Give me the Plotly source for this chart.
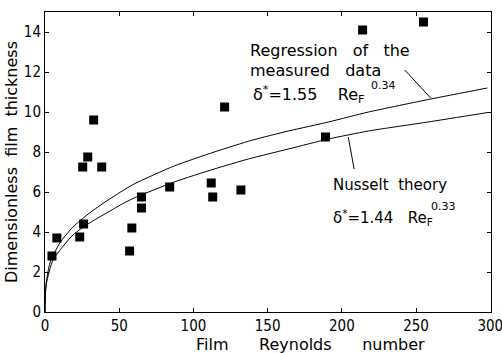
import plotly.graph_objects as go

re_meas = [4.7, 8, 23.4, 26, 25.4, 28.8, 32.8, 38.2, 57, 58.5, 65, 65, 84, 112, 113, 121, 132, 189, 214, 255]
delta_meas = [2.8, 3.7, 3.75, 4.4, 7.25, 7.75, 9.6, 7.25, 3.05, 4.2, 5.75, 5.2, 6.25, 6.45, 5.75, 10.25, 6.1, 8.75, 14.1, 14.5]

# Regression curve
re_reg = [0, 0.3, 1, 3.3, 10, 18.8, 30, 41.5, 52, 60, 87, 114, 140, 164, 191, 218, 260, 298]
delta_reg = [0, 1.0, 1.55, 2.45, 3.45, 4.25, 4.95, 5.55, 6.05, 6.4, 7.3, 8.0, 8.6, 9.05, 9.5, 10.0, 10.65, 11.2]

# Nusselt curve
re_nus = [0, 0.3, 1, 5.4, 18.8, 30, 41.5, 52, 60, 87, 114, 137, 164, 191, 218, 258, 298]
delta_nus = [0, 0.95, 1.45, 2.6, 3.85, 4.45, 4.95, 5.4, 5.7, 6.5, 7.15, 7.65, 8.15, 8.65, 9.05, 9.5, 9.97]

x_ticks = [0, 50, 100, 150, 200, 250, 300]
y_ticks = [0, 2, 4, 6, 8, 10, 12, 14]

fig = go.Figure()
fig.add_trace(go.Scatter(x=re_reg, y=delta_reg, mode="lines", line=dict(color="black", width=1, shape="spline", smoothing=0.6), showlegend=False))
fig.add_trace(go.Scatter(x=re_nus, y=delta_nus, mode="lines", line=dict(color="black", width=1, shape="spline", smoothing=0.6), showlegend=False))
fig.add_trace(go.Scatter(x=re_meas, y=delta_meas, mode="markers", marker=dict(symbol="square", size=9, color="black"), showlegend=False))

# leader lines
fig.add_trace(go.Scatter(x=[242.4, 259.8], y=[12.1, 10.7], mode="lines", line=dict(color="black", width=1), showlegend=False))
fig.add_trace(go.Scatter(x=[204.3, 208.3], y=[8.75, 7.15], mode="lines", line=dict(color="black", width=1), showlegend=False))

nb = "\u00a0"
afont = dict(family="DejaVu Sans", size=16, color="black")
nfont = dict(family="DejaVu Sans", size=15, color="black")
sfont = dict(family="DejaVu Sans", size=11, color="black")
ann = [
    dict(x=136.5, y=13.1, text="Regression" + nb * 3 + "of" + nb * 3 + "the", font=afont),
    dict(x=136.5, y=12.1, text="measured" + nb * 3 + "data", font=afont),
    dict(x=139, y=10.9, text="δ<sup>*</sup>=1.55" + nb * 4 + "Re<sub>F</sub>", font=afont),
    dict(x=218, y=11.35, text="0.34", font=sfont),
    dict(x=193, y=6.35, text="Nusselt" + nb * 2 + "theory", font=nfont),
    dict(x=192.5, y=4.75, text="δ<sup>*</sup>=1.44" + nb * 3 + "Re<sub>F</sub>", font=nfont),
    dict(x=259, y=5.3, text="0.33", font=sfont),
]
for a in ann:
    fig.add_annotation(xref="x", yref="y", xanchor="left", yanchor="middle", showarrow=False, **a)

# x-axis title (sits right of centre in the original)
fig.add_annotation(xref="paper", yref="paper", x=0.596, y=-0.108, xanchor="center", yanchor="middle",
                   showarrow=False, text="Film" + nb * 6 + "Reynolds" + nb * 6 + "number",
                   font=dict(family="DejaVu Sans", size=16, color="black"))

tickfont = dict(family="Liberation Sans Narrow, DejaVu Sans Condensed, sans-serif", size=15, color="black")
fig.update_xaxes(range=[0, 300.5], tickvals=x_ticks, ticks="inside", ticklen=4, tickcolor="black",
                 showline=True, linecolor="black", linewidth=1, mirror="ticks", showgrid=False, zeroline=False,
                 tickfont=tickfont, automargin=False, ticklabeloverflow="allow")
fig.update_yaxes(range=[0, 15], tickvals=y_ticks, ticks="inside", ticklen=4, tickcolor="black",
                 showline=True, linecolor="black", linewidth=1, mirror="ticks", showgrid=False, zeroline=False,
                 tickfont=tickfont, automargin=False,
                 title=dict(text="Dimensionless" + nb * 2 + "film" + nb * 2 + "thickness", font=dict(family="DejaVu Sans", size=16, color="black"), standoff=2))
fig.update_layout(width=502, height=353, margin=dict(l=45, r=11, t=12, b=41),
                  paper_bgcolor="white", plot_bgcolor="white")
# remove the default 8px page margin so the figure fills the window exactly
fig.write_html("out.html", config={"displayModeBar": False},
               post_script="document.body.style.margin='0';document.body.style.overflow='hidden';")
